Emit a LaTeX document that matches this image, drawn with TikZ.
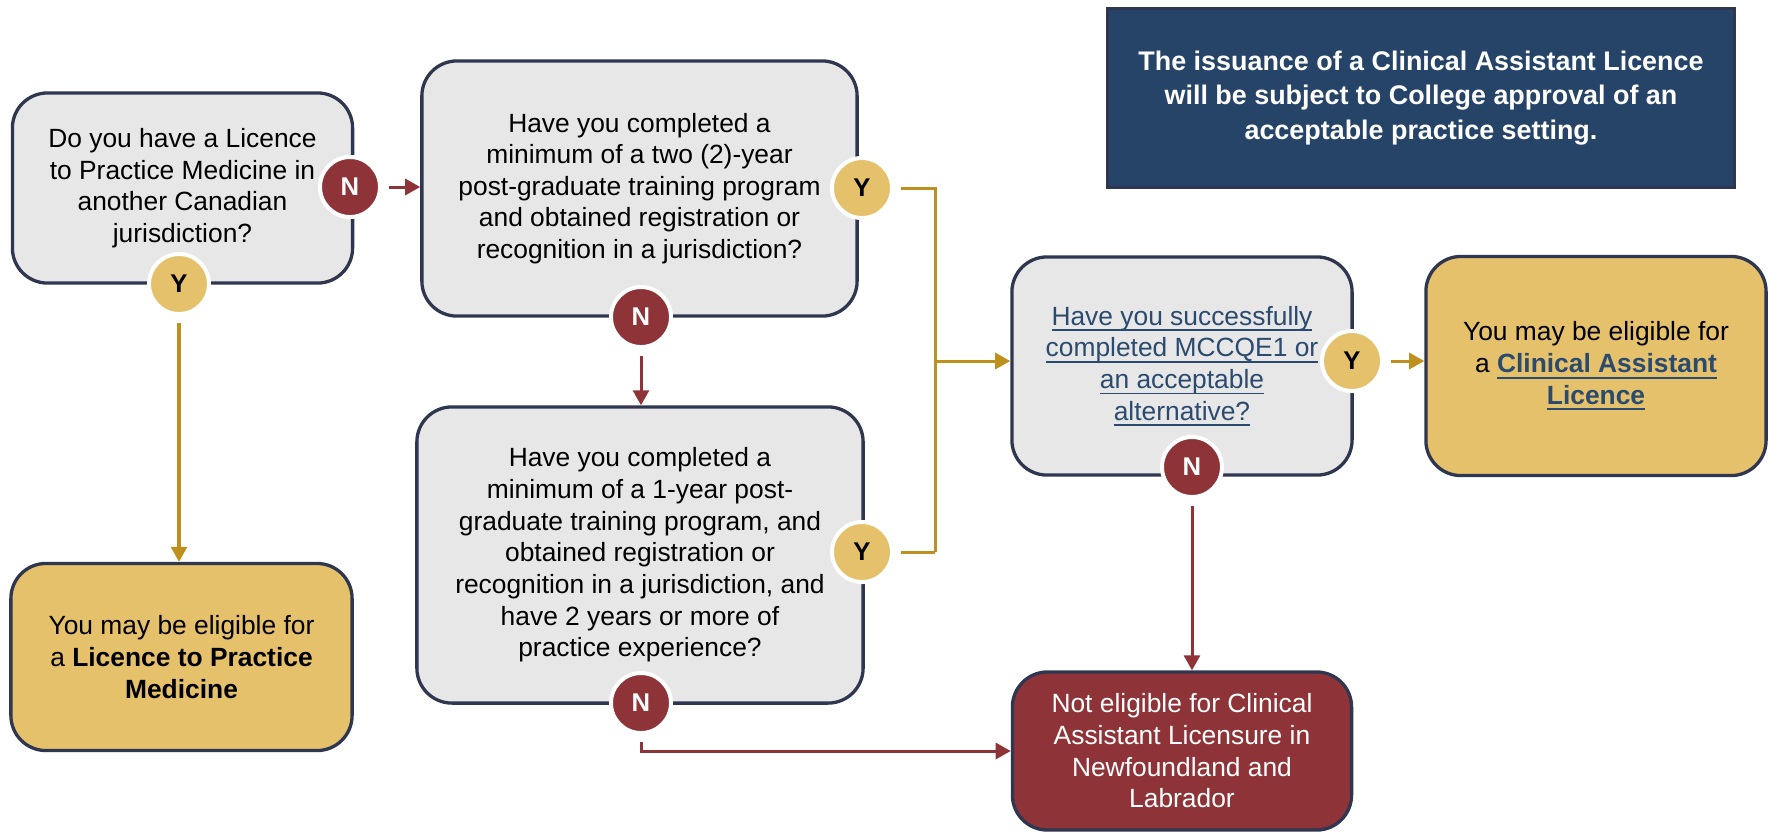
\documentclass[tikz,border=0pt]{standalone}
\usepackage{fontspec}
\setmainfont{Liberation Sans}
\usetikzlibrary{arrows.meta}
\newcommand{\myul}[1]{\setbox0\hbox{#1}\rlap{\rule[-1.7pt]{\wd0}{0.5pt}}\box0}
\definecolor{boxgray}{HTML}{E7E7E7}
\definecolor{bordercol}{HTML}{2F3650}
\definecolor{goldfill}{HTML}{E5C16B}
\definecolor{goldline}{HTML}{C0901F}
\definecolor{redcol}{HTML}{8E3438}
\definecolor{navyfill}{HTML}{264468}
\definecolor{linkcol}{HTML}{2B4A6F}
\begin{document}
\begin{tikzpicture}[x=0.01cm,y=-0.01cm,
  box/.style={draw=bordercol, line width=0.033cm, rounded corners=0.35cm, align=center, inner sep=0pt,
    font=\fontsize{7.5pt}{9pt}\selectfont},
  qbox/.style={box, fill=boxgray},
  gbox/.style={box, fill=goldfill},
  rbox/.style={box, fill=redcol, text=white},
  notebox/.style={draw=bordercol, line width=0.03cm, fill=navyfill, text=white, align=center, inner sep=0pt,
    font=\bfseries\fontsize{7.65pt}{9.9pt}\selectfont},
  yesc/.style={circle, fill=goldfill, draw=white, line width=0.04cm, minimum size=0.6cm, inner sep=0pt,
    font=\bfseries\fontsize{7.3pt}{8pt}\selectfont},
  noc/.style={yesc, fill=redcol, text=white},
  ylink/.style={draw=goldline, line width=0.03cm, shorten <=2pt},
  yarrow/.style={draw=goldline, line width=0.03cm, -{Triangle[length=0.15cm,width=0.16cm]}},
  rarrow/.style={draw=redcol, line width=0.03cm, shorten <=2pt, -{Triangle[length=0.15cm,width=0.16cm]}}
]
\useasboundingbox (0,0) rectangle (1771,835);

% boxes
\node[qbox, minimum width=3.40cm, minimum height=1.90cm] (A) at (182.5,188)
  {Do you have a Licence\\to Practice Medicine in\\another Canadian\\jurisdiction?};
\node[qbox, minimum width=4.35cm, minimum height=2.55cm] (B) at (639.5,188.5)
  {Have you completed a\\minimum of a two (2)-year\\post-graduate training program\\and obtained registration or\\recognition in a jurisdiction?};
\node[qbox, minimum width=4.46cm, minimum height=2.96cm] (C) at (640,555)
  {Have you completed a\\minimum of a 1-year post-\\graduate training program, and\\obtained registration or\\recognition in a jurisdiction, and\\have 2 years or more of\\practice experience?};
\node[qbox, minimum width=3.40cm, minimum height=2.18cm, text=linkcol] (D) at (1182,366)
  {\myul{Have you successfully}\\\myul{completed MCCQE1 or}\\\myul{an acceptable}\\\myul{alternative?}};
\node[gbox, minimum width=3.40cm, minimum height=2.19cm] (E) at (1596,366)
  {You may be eligible for\\a \textcolor{linkcol}{\bfseries\myul{Clinical Assistant}}\\\textcolor{linkcol}{\bfseries\myul{Licence}}};
\node[gbox, minimum width=3.41cm, minimum height=1.87cm] (F) at (181.5,657)
  {You may be eligible for\\a \textbf{Licence to Practice}\\\textbf{Medicine}};
\node[rbox, minimum width=3.39cm, minimum height=1.58cm] (G) at (1182,751)
  {Not eligible for Clinical\\Assistant Licensure in\\Newfoundland and\\Labrador};
\node[notebox, minimum width=6.27cm, minimum height=1.78cm] (note) at (1421,98)
  {The issuance of a Clinical Assistant Licence\\will be subject to College approval of an\\acceptable practice setting.};

% answer circles
\node[noc] (N1) at (350,187) {N};
\node[yesc] (Y1) at (179,284) {Y};
\node[yesc] (Y2) at (862,188) {Y};
\node[noc] (N2) at (641,317) {N};
\node[yesc] (Y3) at (862,552) {Y};
\node[noc] (N3) at (641,703) {N};
\node[yesc] (Y4) at (1352,361) {Y};
\node[noc] (N4) at (1192,467) {N};

\coordinate (busT) at (935,188);
\coordinate (busB) at (935,552);
\coordinate (busM) at (935,361);

% connectors
\draw[rarrow] (N1) -- (N1 -| B.west);
\draw[yarrow, shorten <=2pt] (Y1) -- (Y1 |- F.north);
\draw[ylink] (Y2) -- (busT) -- (busB);
\draw[ylink] (Y3) -- (busB);
\draw[yarrow] (busM) -- (busM -| D.west);
\draw[yarrow, shorten <=2pt] (Y4) -- (Y4 -| E.west);
\draw[rarrow] (N2) -- (N2 |- C.north);
\draw[rarrow] (N4) -- (N4 |- G.north);
\draw[rarrow] (N3) |- (G.west);
\end{tikzpicture}
\end{document}
